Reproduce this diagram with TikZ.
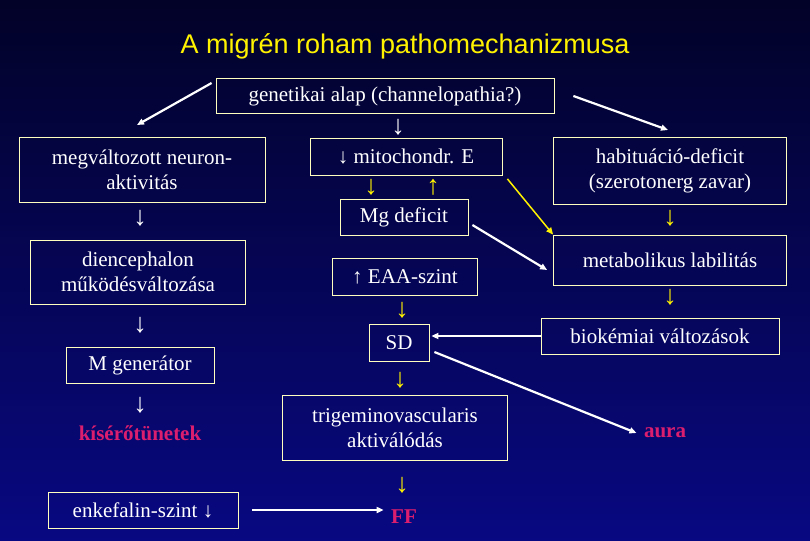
\documentclass[tikz,border=0pt]{standalone}
\usepackage{fontspec}
\setmainfont{Liberation Serif}
\newfontfamily\titlefont{Liberation Sans}
\usetikzlibrary{arrows.meta}
\definecolor{bgtop}{RGB}{2,2,40}
\definecolor{bgbot}{RGB}{8,8,130}
\definecolor{boxline}{RGB}{255,255,190}
\definecolor{pinkred}{RGB}{220,30,110}
\tikzset{
  box/.style={draw=boxline, line width=0.8pt, text=white, align=center,
    font=\fontsize{21}{25}\selectfont, inner sep=2pt},
  result/.style={text=pinkred, font=\fontsize{21}{25}\selectfont\bfseries},
  yarr/.style={text=yellow, font=\fontsize{27}{27}\selectfont\bfseries},
  warr/.style={text=white, font=\fontsize{27}{27}\selectfont\bfseries},
  bigarrow/.style={-{Triangle[length=7pt,width=6pt]}, line width=2.2pt, white},
}
\begin{document}
\begin{tikzpicture}[x=1pt,y=-1pt]
  \shade[top color=bgtop, bottom color=bgbot] (0,0) rectangle (810,540);
  \useasboundingbox (0,0) rectangle (810,540);
  \node[text=yellow, font=\titlefont\fontsize{27}{30}\selectfont] (title) at (405,46) {A migrén roham pathomechanizmusa};
  % boxes
  \node[box, minimum width=338pt, minimum height=35pt] (gen) at (385,96) {genetikai alap (channelopathia?)};
  \node[box, minimum width=246pt, minimum height=65pt] (neur) at (142,170) {megváltozott neuron-\\aktivitás};
  \node[box, minimum width=192pt, minimum height=37pt] (mito) at (406,157) {↓ mitochondr. E};
  \node[box, minimum width=128pt, minimum height=36pt] (mg) at (404,217) {Mg deficit};
  \node[box, minimum width=233pt, minimum height=67pt] (habit) at (670,171) {habituáció-deficit\\(szerotonerg zavar)};
  \node[box, minimum width=215pt, minimum height=64pt] (dien) at (138,272) {diencephalon\\működésváltozása};
  \node[box, minimum width=145pt, minimum height=37pt] (eaa) at (405,277) {↑ EAA-szint};
  \node[box, minimum width=233pt, minimum height=50pt] (meta) at (670,260) {metabolikus labilitás};
  \node[box, minimum width=60pt, minimum height=37pt] (sd) at (399,343) {SD};
  \node[box, minimum width=238pt, minimum height=36pt] (bio) at (660,336) {biokémiai változások};
  \node[box, minimum width=148pt, minimum height=36pt] (mgen) at (140,365) {M generátor};
  \node[box, minimum width=225pt, minimum height=65pt] (trig) at (395,428) {trigeminovascularis\\aktiválódás};
  \node[box, minimum width=190pt, minimum height=36pt] (enk) at (143,510) {enkefalin-szint ↓};
  \node[result] (kis) at (140,433) {kísérőtünetek};
  \node[result] (aura) at (665,433) {aura};
  \node[result] (ff) at (404,517) {FF};
  % arrow glyphs
  \node[warr] (a1) at (398,127) {↓};
  \node[warr] (a2) at (140,218) {↓};
  \node[warr] (a3) at (140,325) {↓};
  \node[warr] (a4) at (140,405) {↓};
  \node[yarr] (a5) at (371,187) {↓};
  \node[yarr] (a6) at (433,187) {↑};
  \node[yarr] (a7) at (670,218) {↓};
  \node[yarr] (a8) at (670,297) {↓};
  \node[yarr] (a9) at (402,310) {↓};
  \node[yarr] (a10) at (400,380) {↓};
  \node[yarr] (a11) at (402,485) {↓};
  % connectors
  \coordinate (nl) at (137,125);
  \coordinate (nr) at (668,130);
  \draw[bigarrow] (gen.west) ++(-4,-13) -- (nl);
  \draw[bigarrow] (gen.east) ++(19,0) -- (nr);
  \draw[-{Triangle[length=7pt,width=6pt]}, line width=1.5pt, yellow] (mito.south east) ++(5,3) -- (meta.north west);
  \draw[bigarrow] (mg.east) ++(4,8) -- ([xshift=-6pt,yshift=-10pt]meta.west);
  \draw[bigarrow] (bio.west) -- ([xshift=2pt]sd.east |- bio.west);
  \draw[bigarrow] ([xshift=5pt,yshift=-9pt]sd.east) -- ([xshift=-4pt]aura.west);
  \draw[bigarrow] ([xshift=14pt]enk.east) -- ([xshift=-4pt]ff.west |- enk.east);
\end{tikzpicture}
\end{document}
